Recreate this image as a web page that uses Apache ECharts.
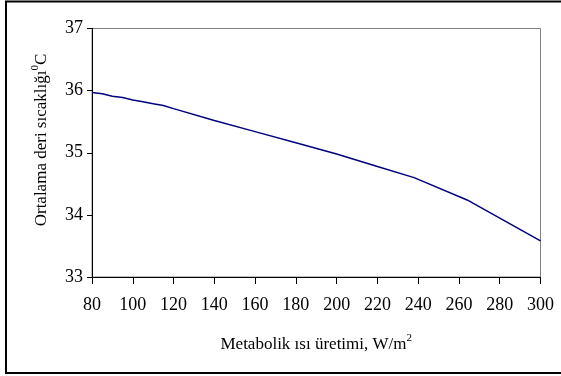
<!DOCTYPE html>
<html>
<head>
<meta charset="utf-8">
<script src="https://cdn.jsdelivr.net/npm/echarts@6/dist/echarts.min.js"></script>
<style>
html,body{margin:0;padding:0;background:#fff;}
#c{width:561px;height:376px;}
</style>
</head>
<body>
<div id="c"></div>
<script>
var xValues = [80, 85, 90, 95, 100, 105, 110, 115, 120, 140, 160, 180, 200, 220, 238, 264, 300];
var skinTemp = [35.97, 35.95, 35.91, 35.89, 35.85, 35.82, 35.79, 35.76, 35.71, 35.52, 35.34, 35.16, 34.98, 34.78, 34.6, 34.24, 33.58];
var xTicks = [80, 100, 120, 140, 160, 180, 200, 220, 240, 260, 280, 300];
var yTicks = [33, 34, 35, 36, 37];
var xTitle = ['Metabolik ısı üretimi, W/m', '2'];
var yTitle = ['Ortalama deri sıcaklığı', '0', 'C'];

var points = xValues.map(function (x, i) { return [x, skinTemp[i]]; });
var font = 'Liberation Serif, Times New Roman, serif';
var rich = {
  a: { fontFamily: font, fontSize: 17, color: '#000', lineHeight: 20, verticalAlign: 'bottom' },
  s: { fontFamily: font, fontSize: 11, color: '#000', lineHeight: 20, verticalAlign: 'top', padding: [0, 0, 9, 0] }
};

var chart = echarts.init(document.getElementById('c'));
chart.setOption({
  animation: false,
  backgroundColor: '#fff',
  graphic: [{
    type: 'rect',
    shape: { x: 6, y: 1.5, width: 600, height: 371.5 },
    style: { fill: 'none', stroke: '#000', lineWidth: 2 },
    z: 100
  }, {
    type: 'text',
    x: 40, y: 140,
    rotation: Math.PI / 2,
    style: {
      text: '{a|' + yTitle[0] + '}{s|' + yTitle[1] + '}{a|' + yTitle[2] + '}',
      rich: rich,
      align: 'center', verticalAlign: 'middle'
    }
  }],
  grid: {
    left: 92, right: 20.5, top: 28.5, bottom: 99,
    show: true, borderColor: '#808080', borderWidth: 1, backgroundColor: '#fff'
  },
  xAxis: {
    type: 'value',
    min: xTicks[0], max: xTicks[xTicks.length - 1], interval: 20,
    name: '{a|' + xTitle[0] + '}{s|' + xTitle[1] + '}',
    nameLocation: 'middle', nameGap: 56,
    nameTextStyle: { rich: rich },
    axisLine: { show: true, lineStyle: { color: '#000', width: 1 } },
    axisTick: { show: true, length: 7, lineStyle: { color: '#000' } },
    axisLabel: { fontFamily: font, fontSize: 18, color: '#000', margin: 19 },
    splitLine: { show: false }
  },
  yAxis: {
    type: 'value',
    min: yTicks[0], max: yTicks[yTicks.length - 1], interval: 1,
    axisLine: { show: true, lineStyle: { color: '#000', width: 1 } },
    axisTick: { show: true, length: 5, lineStyle: { color: '#000' } },
    axisLabel: { fontFamily: font, fontSize: 18, color: '#000', margin: 9 },
    splitLine: { show: false }
  },
  series: [{
    type: 'line',
    data: points,
    showSymbol: false,
    symbol: 'none',
    lineStyle: { color: '#000080', width: 1.5 },
    smooth: false
  }]
});
</script>
</body>
</html>
